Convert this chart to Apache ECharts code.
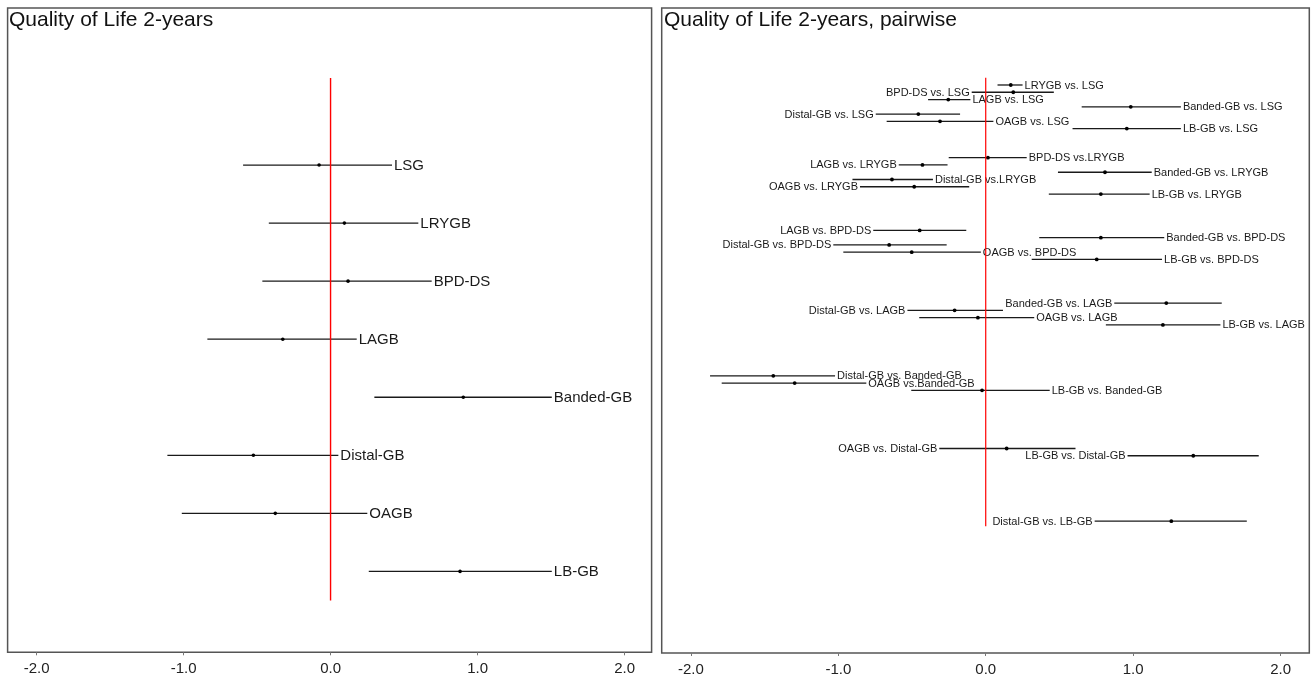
<!DOCTYPE html>
<html>
<head>
<meta charset="utf-8">
<script src="https://cdn.jsdelivr.net/npm/echarts@6/dist/echarts.min.js"></script>
<style>
  html, body { margin: 0; padding: 0; background: #fff; }
  #chart { width: 1313px; height: 680px; }
</style>
</head>
<body>
<div id="chart"></div>
<script>
// Single-treatment estimates (left panel)
const treatments = ['LSG', 'LRYGB', 'BPD-DS', 'LAGB', 'Banded-GB', 'Distal-GB', 'OAGB', 'LB-GB'];
const trtLower = [-0.595, -0.420, -0.464, -0.838, 0.298, -1.110, -1.012, 0.260];
const trtUpper = [0.418, 0.597, 0.688, 0.178, 1.505, 0.053, 0.250, 1.505];
const trtEst   = [-0.078, 0.094, 0.119, -0.325, 0.903, -0.525, -0.376, 0.881];

// Pairwise comparisons (right panel), listed block by block
const pairLabels = [
  'LRYGB vs. LSG', 'BPD-DS vs. LSG', 'LAGB vs. LSG', 'Banded-GB vs. LSG', 'Distal-GB vs. LSG', 'OAGB vs. LSG', 'LB-GB vs. LSG',
  'BPD-DS vs.LRYGB', 'LAGB vs. LRYGB', 'Banded-GB vs. LRYGB', 'Distal-GB vs.LRYGB', 'OAGB vs. LRYGB', 'LB-GB vs. LRYGB',
  'LAGB vs. BPD-DS', 'Banded-GB vs. BPD-DS', 'Distal-GB vs. BPD-DS', 'OAGB vs. BPD-DS', 'LB-GB vs. BPD-DS',
  'Banded-GB vs. LAGB', 'Distal-GB vs. LAGB', 'OAGB vs. LAGB', 'LB-GB vs. LAGB',
  'Distal-GB vs. Banded-GB', 'OAGB vs.Banded-GB', 'LB-GB vs. Banded-GB',
  'OAGB vs. Distal-GB', 'LB-GB vs. Distal-GB',
  'Distal-GB vs. LB-GB'
];
const pairLower = [
  0.080, -0.095, -0.391, 0.651, -0.746, -0.672, 0.589,
  -0.251, -0.590, 0.490, -0.904, -0.853, 0.428,
  -0.763, 0.363, -1.034, -0.966, 0.312,
  0.872, -0.531, -0.451, 0.815,
  -1.870, -1.791, -0.505,
  -0.315, 0.962,
  0.739
];
const pairUpper = [
  0.250, 0.462, -0.104, 1.324, -0.174, 0.052, 1.324,
  0.278, -0.259, 1.126, -0.358, -0.112, 1.112,
  -0.132, 1.211, -0.265, -0.033, 1.196,
  1.601, 0.117, 0.329, 1.592,
  -1.022, -0.810, 0.434,
  0.609, 1.852,
  1.771
];
const pairEst = [
  0.170, 0.187, -0.254, 0.984, -0.457, -0.310, 0.957,
  0.015, -0.429, 0.809, -0.636, -0.485, 0.781,
  -0.448, 0.781, -0.655, -0.502, 0.753,
  1.225, -0.211, -0.053, 1.202,
  -1.441, -1.296, -0.025,
  0.142, 1.408,
  1.259
];
const pairBlockSizes = [7, 6, 5, 4, 3, 2, 1];

// Which end of each interval carries its label
const pairLabelSide = [
  'r', 'l', 'r', 'r', 'l', 'r', 'r',
  'r', 'l', 'r', 'r', 'l', 'r',
  'l', 'r', 'l', 'r', 'r',
  'l', 'l', 'r', 'r',
  'r', 'r', 'r',
  'l', 'l',
  'l'
];

const tickValues = [-2, -1, 0, 1, 2];
const FONT = "'Liberation Sans', Arial, sans-serif";

// Row positions: left panel one row per treatment, right panel blocks of ten slots
const trtRows = treatments.map((_, i) => i);
const pairRows = [];
pairBlockSizes.forEach((n, g) => { for (let r = 0; r < n; r++) pairRows.push(g * 10 + r); });

const trtData = treatments.map((_, i) => [trtLower[i], trtUpper[i], trtEst[i], trtRows[i]]);
const pairData = pairLabels.map((_, i) => [pairLower[i], pairUpper[i], pairEst[i], pairRows[i]]);

function makeRenderer(labels, sides, fontSize, dotR) {
  return function (params, api) {
    const y = api.value(3);
    const lo = api.coord([api.value(0), y]);
    const hi = api.coord([api.value(1), y]);
    const pt = api.coord([api.value(2), y]);
    const side = sides ? sides[params.dataIndex] : 'r';
    const tx = side === 'r' ? hi[0] + 2 : lo[0] - 2;
    return {
      type: 'group',
      children: [
        { type: 'line', shape: { x1: lo[0], y1: lo[1], x2: hi[0], y2: hi[1] },
          style: { stroke: '#1a1a1a', lineWidth: 1.3 } },
        { type: 'circle', shape: { cx: pt[0], cy: pt[1], r: dotR },
          style: { fill: '#000' } },
        { type: 'text',
          style: { text: labels[params.dataIndex], x: tx, y: lo[1] + 0.5,
                   align: side === 'r' ? 'left' : 'right', verticalAlign: 'middle',
                   fontSize: fontSize, fontFamily: FONT, fill: '#1a1a1a' } }
      ]
    };
  };
}

function xAxisFor(gridIndex, min, max) {
  return {
    type: 'value', gridIndex, min, max,
    position: 'bottom',
    axisLine: { show: false, onZero: false },
    splitLine: { show: false },
    axisTick: { show: true, inside: false, length: 3, customValues: tickValues,
                lineStyle: { color: '#777', width: 1 } },
    axisLabel: { customValues: tickValues, formatter: v => v.toFixed(1),
                 fontSize: 15, fontFamily: FONT, color: '#222', margin: 9 }
  };
}

const chart = echarts.init(document.getElementById('chart'), null, { renderer: 'canvas' });
chart.setOption({
  animation: false,
  backgroundColor: '#fff',
  title: [
    { text: 'Quality of Life 2-years', left: 9, top: 10, padding: 0,
      textStyle: { fontSize: 21, fontWeight: 'normal', fontFamily: FONT, color: '#111' } },
    { text: 'Quality of Life 2-years, pairwise', left: 664, top: 10, padding: 0,
      textStyle: { fontSize: 21, fontWeight: 'normal', fontFamily: FONT, color: '#111' } }
  ],
  grid: [
    { left: 7.6, top: 8, width: 644, height: 644.3, show: true,
      borderColor: '#555', borderWidth: 1.5, backgroundColor: 'transparent', outerBoundsMode: 'none' },
    { left: 661.7, top: 8, width: 647.6, height: 645, show: true,
      borderColor: '#555', borderWidth: 1.5, backgroundColor: 'transparent', outerBoundsMode: 'none' }
  ],
  xAxis: [xAxisFor(0, -2.197, 2.184), xAxisFor(1, -2.198, 2.195)],
  yAxis: [
    { type: 'value', gridIndex: 0, inverse: true, min: -2.705, max: 8.394, show: false },
    { type: 'value', gridIndex: 1, inverse: true, min: -10.59, max: 78.13, show: false }
  ],
  series: [
    { type: 'custom', xAxisIndex: 0, yAxisIndex: 0, clip: true, silent: true,
      renderItem: makeRenderer(treatments, null, 15, 1.8),
      encode: { x: [0, 1, 2], y: 3 }, data: trtData },
    { type: 'custom', xAxisIndex: 1, yAxisIndex: 1, clip: true, silent: true,
      renderItem: makeRenderer(pairLabels, pairLabelSide, 11, 1.9),
      encode: { x: [0, 1, 2], y: 3 }, data: pairData },
    { type: 'line', xAxisIndex: 0, yAxisIndex: 0, silent: true, symbol: 'none', z: 5,
      lineStyle: { color: '#ff0000', width: 1.4 }, data: [[0, -1.5], [0, 7.5]] },
    { type: 'line', xAxisIndex: 1, yAxisIndex: 1, silent: true, symbol: 'none', z: 5,
      lineStyle: { color: '#ff0000', width: 1.2 }, data: [[0, -1], [0, 60.7]] }
  ]
});
</script>
</body>
</html>
